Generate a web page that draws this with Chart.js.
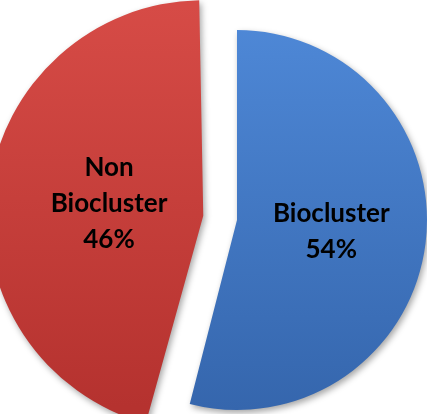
<!DOCTYPE html>
<html>
<head>
<meta charset="utf-8">
<script src="https://cdn.jsdelivr.net/npm/chart.js@4.4.0/dist/chart.umd.min.js"></script>
<style>
  html, body { margin: 0; padding: 0; background: #ffffff; }
  #wrap { width: 427px; height: 414px; position: relative; }
</style>
</head>
<body>
<div id="wrap"><canvas id="c" width="427" height="414"></canvas></div>
<script>
// ---- data ----
const categories = ["Biocluster", "Non Biocluster"];
const labelLines = [["Biocluster"], ["Non", "Biocluster"]];
const values = [54, 46];
const percentLabels = ["54%", "46%"];

// ---- styles ----
const topColors = ["#4f89d8", "#d64b46"];
const bottomColors = ["#3566ad", "#b5322f"];
const explodePx = [0, 34];           // visible displacement of each slice
const offsets = explodePx.map(v => v * 4); // Chart.js v4 draws offset/4

function sliceFill(context) {
  const i = context.dataIndex;
  const chart = context.chart;
  if (i === undefined) return topColors[0];
  if (!chart.chartArea) return topColors[i];
  const g = chart.ctx.createLinearGradient(0, 10, 0, 410);
  g.addColorStop(0, topColors[i]);
  g.addColorStop(1, bottomColors[i]);
  return g;
}

const shadowPlugin = {
  id: 'shadow',
  beforeDatasetsDraw(chart) {
    const ctx = chart.ctx;
    ctx.save();
    ctx.shadowColor = 'rgba(0,0,0,0.35)';
    ctx.shadowBlur = 6;
    ctx.shadowOffsetX = 2;
    ctx.shadowOffsetY = 3;
  },
  afterDatasetsDraw(chart) {
    chart.ctx.restore();
  }
};

const labelPlugin = {
  id: 'sliceLabels',
  afterDraw(chart) {
    const ctx = chart.ctx;
    const meta = chart.getDatasetMeta(0);
    ctx.save();
    ctx.fillStyle = '#000000';
    ctx.font = 'bold 26px Lato, "Open Sans", sans-serif';
    ctx.textAlign = 'center';
    ctx.textBaseline = 'middle';
    meta.data.forEach((arc, i) => {
      const p = arc.getProps(['x', 'y', 'startAngle', 'endAngle', 'outerRadius'], true);
      const mid = (p.startAngle + p.endAngle) / 2;
      const r = p.outerRadius * 0.5 + explodePx[i];
      const cx = p.x + Math.cos(mid) * r;
      const cy = p.y + Math.sin(mid) * r;
      const lines = labelLines[i].concat([percentLabels[i]]);
      const lh = 36;
      const y0 = cy - (lines.length - 1) * lh / 2;
      lines.forEach((t, k) => ctx.fillText(t, cx, y0 + k * lh));
    });
    ctx.restore();
  }
};

new Chart(document.getElementById('c'), {
  type: 'pie',
  data: {
    labels: categories,
    datasets: [{
      data: values,
      backgroundColor: sliceFill,
      borderWidth: 0,
      offset: offsets,
      hoverOffset: 0
    }]
  },
  options: {
    responsive: false,
    animation: false,
    radius: 190,
    rotation: 0,
    layout: { padding: { left: 47, right: 0, top: 26, bottom: 0 } },
    plugins: {
      legend: { display: false },
      tooltip: { enabled: false }
    },
    events: []
  },
  plugins: [shadowPlugin, labelPlugin]
});
</script>
</body>
</html>
